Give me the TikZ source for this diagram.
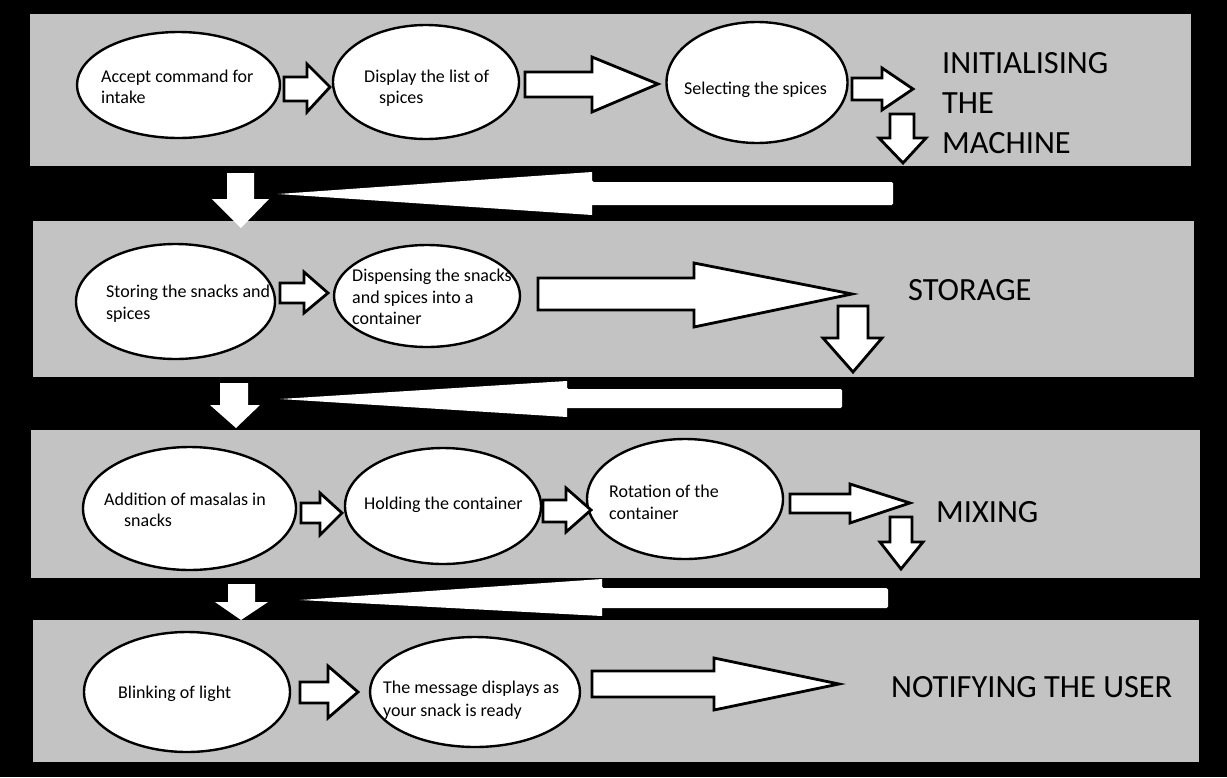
\documentclass[tikz,border=0pt]{standalone}
\usepackage{fontspec}
\setmainfont{Carlito}
\usetikzlibrary{shapes.geometric}
\definecolor{bandgray}{RGB}{195,195,195}
\tikzset{
  band/.style={fill=bandgray, draw=none},
  oval/.style={ellipse, draw=black, line width=2.4pt, fill=white, inner sep=0pt},
  blk/.style={draw=black, line width=2.8pt, fill=white, line join=miter},
  wedge/.style={fill=white, draw=none},
  lbl/.style={font=\fontsize{18}{21}\selectfont, anchor=base west, inner sep=0pt, text=black},
  stage/.style={font=\fontsize{32.4}{40}\selectfont, anchor=base west, inner sep=0pt, text=black},
}
% right block arrow: x0, head base x, tip x, shaft y1, shaft y2, head y1, head y2, tip y
\newcommand\rblkarrow[8]{\draw[blk] (#1,#4) -- (#2,#4) -- (#2,#6) -- (#3,#8) -- (#2,#7) -- (#2,#5) -- (#1,#5) -- cycle;}
% down block arrow: shaft x1, shaft x2, head x1, head x2, top y, head base y, tip y, tip x, style
\newcommand\dblkarrow[9]{\path[#9] (#1,#5) -- (#2,#5) -- (#2,#6) -- (#4,#6) -- (#8,#7) -- (#3,#6) -- (#1,#6) -- cycle;}
% left wedge: right x, head base x, tip x, shaft y1, shaft y2, head y1, head y2, tip y
\newcommand\lwedgearrow[8]{\fill[white, rounded corners=1.5pt] (#1,#4) -- (#2,#4) [sharp corners] -- (#2,#6) -- (#3,#8) -- (#2,#7) -- (#2,#5) [rounded corners=1.5pt] -- (#1,#5) -- cycle;}
\begin{document}
\begin{tikzpicture}[x=1pt, y=-1pt]
\useasboundingbox (0,0) rectangle (1227,777);
\fill[black] (0,0) rectangle (1227,777);
% bands
\fill[band] (30,14) rectangle (1191,166);
\fill[band] (33,221) rectangle (1194,377);
\fill[band] (31,430) rectangle (1200,578);
\fill[band] (33,620) rectangle (1199,762);

% ---------- row 1 ----------
\node[oval, minimum width=203pt, minimum height=106pt] (e1) at (178.5,85) {};
\node[oval, minimum width=186pt, minimum height=114pt] (e2) at (426,82) {};
\node[oval, minimum width=181pt, minimum height=121pt] (e3) at (757,82.5) {};
\node[lbl] (t1a) at (101,82) {Accept command for};
\node[lbl] (t1b) at (101,103) {intake};
\node[lbl] (t2a) at (364,82) {Display the list of};
\node[lbl] (t2b) at (379,103) {spices};
\node[lbl] (t3a) at (684,94) {Selecting the spices};
\rblkarrow{284}{307}{330}{77}{101}{64}{112}{87}
\rblkarrow{525}{592}{658}{72}{97}{57}{112}{84}
\rblkarrow{852}{882}{913}{78}{100}{68}{110}{89}
\dblkarrow{890}{914}{879}{926}{114}{138}{163}{903}{blk}
\node[stage] (s1a) at (942,73) {INITIALISING};
\node[stage] (s1b) at (942,113) {THE};
\node[stage] (s1c) at (942,153) {MACHINE};

% ---------- gap 1 ----------
\lwedgearrow{893}{592}{278}{182}{205}{172}{215}{194}
\dblkarrow{227}{254}{212}{269}{173}{199}{228}{241}{wedge}

% ---------- row 2 ----------
\node[oval, minimum width=199pt, minimum height=115pt] (e4) at (175.5,301.5) {};
\node[oval, minimum width=186pt, minimum height=102pt] (e5) at (427,296) {};
\node[lbl] (t4a) at (106,297) {Storing the snacks and};
\node[lbl] (t4b) at (106,319) {spices};
\node[lbl] (t5a) at (352,281) {Dispensing the snacks};
\node[lbl] (t5b) at (352,303) {and spices into a};
\node[lbl] (t5c) at (352,324) {container};
\rblkarrow{280}{304}{328}{283}{303}{272}{313}{293}
\rblkarrow{538}{694}{852}{278}{310}{263}{327}{294}
\dblkarrow{838}{868}{823}{882}{306}{338}{372}{853}{blk}
\node[stage] (s2) at (908,300) {STORAGE};

% ---------- gap 2 ----------
\lwedgearrow{842}{567}{280}{389}{408}{381}{417}{399}
\dblkarrow{220}{248}{210}{260}{383}{405}{428}{236}{wedge}

% ---------- row 3 ----------
\node[oval, minimum width=213pt, minimum height=123pt] (e6) at (189.5,508.5) {};
\node[oval, minimum width=196pt, minimum height=116pt] (e7) at (443,506) {};
\node[oval, minimum width=196pt, minimum height=120pt] (e8) at (685,499) {};
\node[lbl] (t6a) at (104,505) {Addition of masalas in};
\node[lbl] (t6b) at (124,526) {snacks};
\node[lbl] (t7a) at (364,509) {Holding the container};
\node[lbl] (t8a) at (609,497) {Rotation of the};
\node[lbl] (t8b) at (609,519) {container};
\rblkarrow{301}{320}{342}{503}{523}{493}{535}{513}
\rblkarrow{543}{566}{591}{500}{522}{488}{532}{510}
\rblkarrow{790}{850}{910}{494}{513}{484}{523}{503}
\dblkarrow{890}{912}{880}{923}{517}{542}{569}{901}{blk}
\node[stage] (s3) at (936,522) {MIXING};

% ---------- gap 3 ----------
\lwedgearrow{888}{602}{300}{588}{608}{579}{616}{600}
\dblkarrow{228}{255}{215}{268}{584}{602}{620}{241}{wedge}

% ---------- row 4 ----------
\node[oval, minimum width=206pt, minimum height=120pt] (e9) at (187,692) {};
\node[oval, minimum width=210pt, minimum height=110pt] (e10) at (475,692) {};
\node[lbl] (t9a) at (118,698) {Blinking of light};
\node[lbl] (t10a) at (383,693) {The message displays as};
\node[lbl] (t10b) at (383,716) {your snack is ready};
\rblkarrow{300}{328}{358}{682}{703}{666}{718}{692}
\rblkarrow{592}{714}{839}{671}{697}{658}{710}{684}
\node[stage] (s4) at (891,697) {NOTIFYING THE USER};
\end{tikzpicture}
\end{document}
